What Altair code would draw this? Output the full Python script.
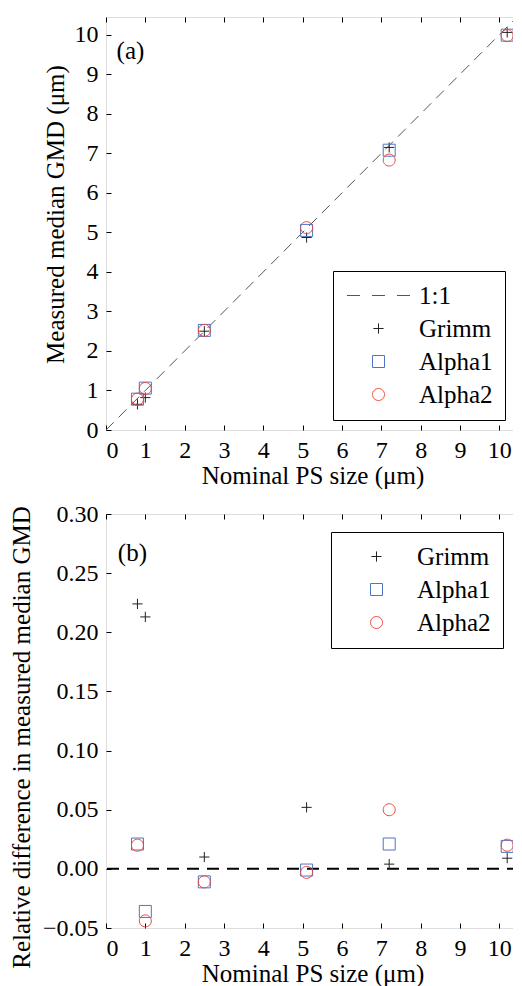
import altair as alt
import pandas as pd

# ---------------- data ----------------
nominal = [0.8, 1.0, 2.5, 5.1, 7.2, 10.2]
series = ["Grimm", "Alpha1", "Alpha2"]

grimm_gmd = [0.65, 0.82, 2.50, 4.87, 7.15, 10.06]
alpha1_gmd = [0.78, 1.06, 2.52, 5.05, 7.08, 9.99]
alpha2_gmd = [0.78, 1.05, 2.52, 5.12, 6.83, 9.98]

grimm_rel = [0.224, 0.213, 0.010, 0.052, 0.004, 0.009]
alpha1_rel = [0.021, -0.036, -0.011, -0.001, 0.021, 0.019]
alpha2_rel = [0.020, -0.044, -0.011, -0.003, 0.050, 0.020]

one_to_one = [0.0, 10.5]
zero_line = [0.0]

x_ticks = list(range(0, 11))
y_ticks_a = list(range(0, 11))
y_ticks_b = [-0.05, 0.0, 0.05, 0.10, 0.15, 0.20, 0.25, 0.30]

FONT = "Liberation Serif"
FS = 25       # titles, legend, panel letters
FS_TICK = 24  # tick labels

def long_df(vals):
    rows = []
    for name, ys in vals.items():
        for x, y in zip(nominal, ys):
            rows.append({"x": x, "y": y, "series": name})
    return pd.DataFrame(rows)

df_a = long_df({"Grimm": grimm_gmd, "Alpha1": alpha1_gmd, "Alpha2": alpha2_gmd})
df_b = long_df({"Grimm": grimm_rel, "Alpha1": alpha1_rel, "Alpha2": alpha2_rel})
df_line = pd.DataFrame({"x": one_to_one, "y": one_to_one})
df_zero = pd.DataFrame({"y": zero_line})
df_lab_a = pd.DataFrame({"x": [0.27], "y": [9.6], "t": ["(a)"]})
df_lab_b = pd.DataFrame({"x": [0.30], "y": [0.267], "t": ["(b)"]})

# symbol paths (leading moveTo keeps legend frame width consistent)
P_DASH = "M-5.25,0H-3.08M-1.08,0H1.08M3.08,0H5.25"
P_PLUS = "M-5.25,0M-0.85,0H0.85M0,-0.85V0.85"
P_SQ = "M-5.25,0M-1,-1H1V1H-1Z"
P_CI = "M-5.25,0M1,0A1,1,0,1,1,-1,0A1,1,0,1,1,1,0Z"

C_LINE = "#555555"
C_G = "#222222"
C_A1 = "#4f74c2"
C_A2 = "#e8473f"

W = 413
H = 413
HB = 414


def legend(x, y):
    return alt.Legend(
        title=None, orient="none", legendX=x, legendY=y,
        symbolSize=144, symbolStrokeWidth=1, symbolOffset=21, labelOffset=28,
        labelFont=FONT, labelFontSize=FS, labelColor="black",
        strokeColor="black", fillColor="white", padding=12, rowPadding=7,
    )


def axis_main(values, title, fmt=None, pad_title=1, title_y=None):
    kw = dict(values=values, title=title, offset=-5, tickSize=5, domain=False,
              tickColor="black", labelFont=FONT, labelFontSize=FS_TICK, labelColor="black",
              labelPadding=8, titleFont=FONT, titleFontSize=FS, titleFontWeight="normal",
              titleColor="black", titlePadding=pad_title, labelOverlap=False, grid=False,
              minExtent=0)
    if fmt:
        kw["format"] = fmt
    if title_y is not None:
        kw["titleY"] = title_y
    return alt.Axis(**kw)


def axis_mirror(values, orient):
    return alt.Axis(values=values, orient=orient, offset=-5, tickSize=5, domain=False,
                    labels=False, title=None, tickColor="black", grid=False,
                    minExtent=0, maxExtent=0)


# ---------------- panel (a) ----------------
xs_a = alt.Scale(domain=[0, 10.5], nice=False, zero=False)
ys_a = alt.Scale(domain=[0, 10.45], nice=False, zero=False)

dom_a = ["1:1"] + series
line_a = alt.Chart(df_line).mark_line(color=C_LINE, strokeDash=[11, 7], strokeWidth=1, clip=True).encode(
    x=alt.X("x:Q", scale=xs_a, axis=axis_mirror(x_ticks, "top")),
    y=alt.Y("y:Q", scale=ys_a, axis=axis_mirror(y_ticks_a, "right")),
)
pts_a = alt.Chart(df_a).mark_point(filled=False, size=144, strokeWidth=1, opacity=1).encode(
    x=alt.X("x:Q", scale=xs_a, axis=axis_main(x_ticks, "Nominal PS size (μm)")),
    y=alt.Y("y:Q", scale=ys_a, axis=axis_main(y_ticks_a, "Measured median GMD (μm)", pad_title=6, title_y=197)),
    color=alt.Color("series:N", scale=alt.Scale(domain=dom_a, range=[C_LINE, C_G, C_A1, C_A2]),
                    legend=legend(227, 254)),
    shape=alt.Shape("series:N", scale=alt.Scale(domain=dom_a, range=[P_DASH, P_PLUS, P_SQ, P_CI]),
                    legend=legend(227, 254)),
)
txt_a = alt.Chart(df_lab_a).mark_text(font=FONT, fontSize=FS, align="left", baseline="middle", color="black").encode(
    x=alt.X("x:Q", scale=xs_a, axis=None), y=alt.Y("y:Q", scale=ys_a, axis=None), text="t:N"
)
panel_a = alt.layer(line_a, pts_a, txt_a).resolve_axis(x="independent", y="independent").properties(width=W, height=H)

# ---------------- panel (b) ----------------
xs_b = alt.Scale(domain=[0, 10.5], nice=False, zero=False)
ys_b = alt.Scale(domain=[-0.05, 0.30], nice=False, zero=False)

zero_b = alt.Chart(df_zero).mark_rule(color="black", strokeDash=[12, 8], strokeWidth=2).encode(
    y=alt.Y("y:Q", scale=ys_b, axis=axis_mirror(y_ticks_b, "right")),
)
mirror_x_b = alt.Chart(df_line).mark_point(opacity=0).encode(
    x=alt.X("x:Q", scale=xs_b, axis=axis_mirror(x_ticks, "top")),
)
pts_b = alt.Chart(df_b).mark_point(filled=False, size=144, strokeWidth=1, opacity=1).encode(
    x=alt.X("x:Q", scale=xs_b, axis=axis_main(x_ticks, "Nominal PS size (μm)")),
    y=alt.Y("y:Q", scale=ys_b, axis=axis_main(y_ticks_b, "Relative difference in measured median GMD",
                                               fmt=".2f", pad_title=8, title_y=223)),
    color=alt.Color("series:N", scale=alt.Scale(domain=series, range=[C_G, C_A1, C_A2]),
                    legend=legend(225, 18)),
    shape=alt.Shape("series:N", scale=alt.Scale(domain=series, range=[P_PLUS, P_SQ, P_CI]),
                    legend=legend(225, 18)),
)
txt_b = alt.Chart(df_lab_b).mark_text(font=FONT, fontSize=FS, align="left", baseline="middle", color="black").encode(
    x=alt.X("x:Q", scale=xs_b, axis=None), y=alt.Y("y:Q", scale=ys_b, axis=None), text="t:N"
)
panel_b = alt.layer(zero_b, mirror_x_b, pts_b, txt_b).resolve_axis(x="independent", y="independent").properties(width=W, height=HB)

chart = alt.vconcat(panel_a, panel_b, spacing=84, bounds="flush").resolve_scale(
    color="independent", shape="independent"
).resolve_legend(color="independent", shape="independent").properties(
    padding={"left": 0, "top": 8, "right": -10, "bottom": 0}
).configure_view(stroke="black", strokeWidth=1).configure(background="white")

chart.save("out.html", embed_options={"renderer": "svg", "actions": False})
